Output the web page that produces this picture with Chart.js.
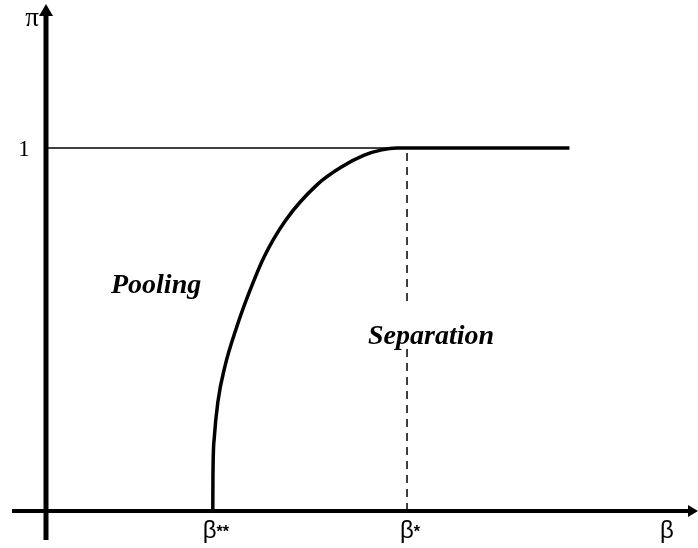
<!DOCTYPE html>
<html>
<head>
<meta charset="utf-8">
<script src="https://cdn.jsdelivr.net/npm/chart.js@4"></script>
<style>
  html, body { margin: 0; padding: 0; background: #fff; }
  #wrap { width: 698px; height: 548px; }
</style>
</head>
<body>
<div id="wrap"><canvas id="diagram" width="698" height="548"></canvas></div>
<script>
// curve pi(beta), beta* = 1
const curveBeta = [0.462, 0.4625, 0.466, 0.476, 0.496, 0.526, 0.562, 0.604, 0.663, 0.752, 0.822, 0.880, 0.930, 0.972, 1.45];
const curvePi   = [0.000, 0.100,  0.200, 0.300, 0.400, 0.500, 0.600, 0.700, 0.800, 0.900, 0.950, 0.980, 0.995, 1.000, 1.00];

const guideBeta = [0, 0.972];
const guidePi = [1, 1];

const betaStar = [1, 1];
const betaStarPi = [0, 1];

const tickBeta = [0.462, 1, 1.72];
const tickBetaLabels = ['β', 'β', 'β'];
const tickBetaStars = ['**', '*', ''];
const tickPi = [1];
const tickPiLabels = ['1'];

const regionLabels = ['Pooling', 'Separation'];

const pts = (xs, ys) => xs.map((x, i) => ({ x: x, y: ys[i] }));

const axesPlugin = {
    id: 'axes',
    afterDatasetsDraw(chart) {
        const ctx = chart.ctx;
        const xs = chart.scales.x;
        const ys = chart.scales.y;
        const x0 = xs.getPixelForValue(0);
        const y0 = ys.getPixelForValue(0);

        ctx.save();
        ctx.fillStyle = '#000';
        ctx.strokeStyle = '#000';

        // x axis
        ctx.lineWidth = 4;
        ctx.beginPath();
        ctx.moveTo(12, y0);
        ctx.lineTo(chart.width - 6, y0);
        ctx.stroke();
        ctx.beginPath();
        ctx.moveTo(chart.width, y0);
        ctx.lineTo(chart.width - 10, y0 - 6);
        ctx.lineTo(chart.width - 10, y0 + 6);
        ctx.closePath();
        ctx.fill();

        // y axis
        ctx.lineWidth = 5;
        ctx.beginPath();
        ctx.moveTo(x0, 540);
        ctx.lineTo(x0, 12);
        ctx.stroke();
        ctx.beginPath();
        ctx.moveTo(x0, 4);
        ctx.lineTo(x0 - 7, 16);
        ctx.lineTo(x0 + 7, 16);
        ctx.closePath();
        ctx.fill();

        // pi label and ticks
        ctx.font = '27px "Liberation Serif", "Times New Roman", serif';
        ctx.textAlign = 'center';
        ctx.textBaseline = 'alphabetic';
        ctx.fillText('π', x0 - 14, 26);
        ctx.font = '23px "Liberation Serif", "Times New Roman", serif';
        tickPi.forEach((v, i) => {
            ctx.fillText(tickPiLabels[i], x0 - 22, ys.getPixelForValue(v) + 8);
        });

        // beta ticks
        const bigFont = '24px "Liberation Sans", Arial, sans-serif';
        const starFont = 'bold 16px "Liberation Sans", Arial, sans-serif';
        tickBeta.forEach((v, i) => {
            const px = xs.getPixelForValue(v);
            ctx.font = bigFont;
            const w = ctx.measureText(tickBetaLabels[i]).width;
            const stars = tickBetaStars[i];
            ctx.font = starFont;
            const sw = ctx.measureText(stars).width;
            const left = px - (w + sw) / 2 + (stars ? 3 : 0);
            ctx.textAlign = 'left';
            ctx.font = bigFont;
            ctx.fillText(tickBetaLabels[i], left, y0 + 27);
            if (stars) {
                ctx.font = starFont;
                ctx.fillText(stars, left + w, y0 + 26);
            }
        });

        // region labels
        ctx.font = 'bold italic 28px "Liberation Serif", "Times New Roman", serif';
        ctx.textAlign = 'left';
        ctx.fillText(regionLabels[0], xs.getPixelForValue(0.18), ys.getPixelForValue(0.60));

        const sx = xs.getPixelForValue(0.892);
        const sy = ys.getPixelForValue(0.46);
        const sw = ctx.measureText(regionLabels[1]).width;
        ctx.fillStyle = '#fff';
        ctx.fillRect(sx - 2, sy - 41, sw + 4, 45);
        ctx.fillStyle = '#000';
        ctx.fillText(regionLabels[1], sx, sy);
        ctx.restore();
    }
};

new Chart(document.getElementById('diagram'), {
    type: 'scatter',
    data: {
        datasets: [
            {
                data: pts(guideBeta, guidePi),
                showLine: true,
                borderColor: '#000',
                borderWidth: 1.4,
                pointRadius: 0
            },
            {
                data: pts(betaStar, betaStarPi),
                showLine: true,
                borderColor: '#000',
                borderWidth: 1.5,
                borderDash: [8, 6],
                pointRadius: 0
            },
            {
                data: pts(curveBeta, curvePi),
                showLine: true,
                borderColor: '#000',
                borderWidth: 3.5,
                cubicInterpolationMode: 'monotone',
                borderJoinStyle: 'round',
                pointRadius: 0
            }
        ]
    },
    options: {
        responsive: false,
        animation: false,
        clip: false,
        layout: { padding: 0 },
        plugins: {
            legend: { display: false },
            tooltip: { enabled: false }
        },
        scales: {
            x: { type: 'linear', display: false, min: -0.1274, max: 1.806 },
            y: { type: 'linear', display: false, min: -0.102, max: 1.408 }
        }
    },
    plugins: [axesPlugin]
});
</script>
</body>
</html>
